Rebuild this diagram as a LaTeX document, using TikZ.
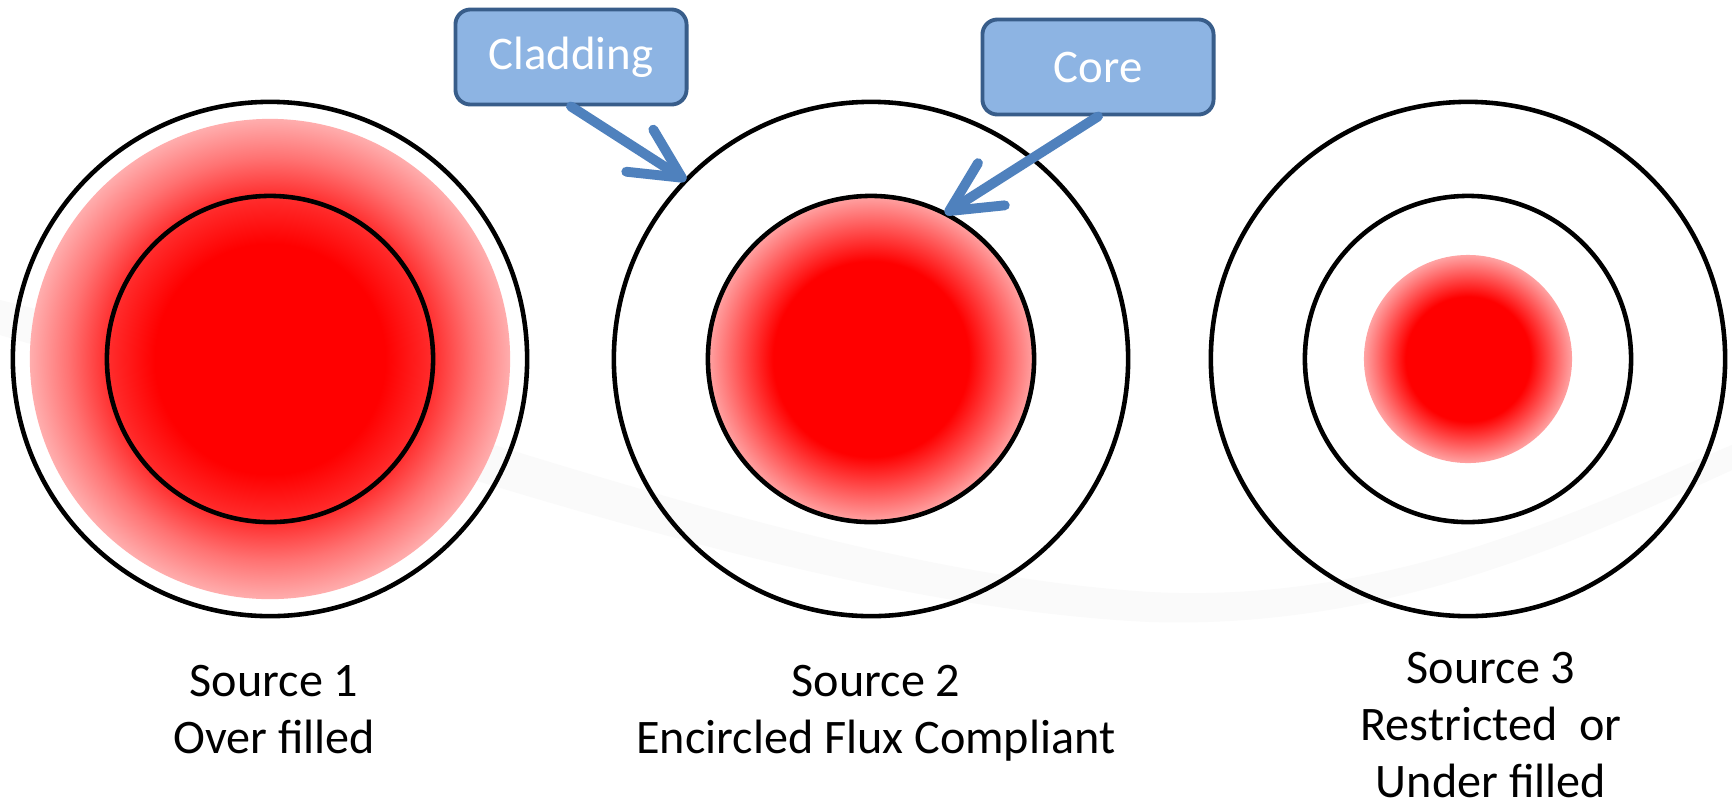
\documentclass[tikz,border=0pt]{standalone}
\usepackage{fontspec}
\setmainfont{Carlito}
\usetikzlibrary{arrows.meta}

\definecolor{calloutfill}{RGB}{141,180,227}
\definecolor{calloutline}{RGB}{56,93,138}
\definecolor{pointerblue}{RGB}{79,129,189}

% light spots, 25bp = rim of the shaded disc
\pgfdeclareradialshading{overspot}{\pgfpoint{0bp}{0bp}}{color(0bp)=(red); color(12bp)=(red); color(17bp)=(red!82!white); color(21bp)=(red!55!white); color(25bp)=(red!32!white); color(50bp)=(red!32!white)}
\pgfdeclareradialshading{corespot}{\pgfpoint{0bp}{0bp}}{color(0bp)=(red); color(15bp)=(red); color(20bp)=(red!68!white); color(25bp)=(red!36!white); color(50bp)=(red!36!white)}

\tikzset{
  fiberring/.style={circle,draw=black,line width=1.3pt,inner sep=0pt,outer sep=0pt},
  lightspot/.style={circle,shade,shading=#1,inner sep=0pt,outer sep=0pt},
  callout/.style={draw=calloutline,fill=calloutfill,line width=1.1pt,rounded corners=0.15cm,
    minimum width=2.31cm,minimum height=0.95cm,text=white,font=\fontsize{13.3}{16}\selectfont},
  pointer/.style={draw=pointerblue,line width=2.8pt,line cap=round,
    -{Straight Barb[length=5mm,width=5mm,round]}},
  caption/.style={align=center,anchor=base,font=\fontsize{13.7}{16.2}\selectfont}
}

\begin{document}
\begin{tikzpicture}[x=0.01cm,y=-0.01cm]
\useasboundingbox (0,0) rectangle (1732,808);
\fill[white] (0,0) rectangle (1732,808);
% faint background swoosh
\fill[black!2] (0,300) .. controls (400,400) and (800,570) .. (1150,592) .. controls (1400,605) and (1600,500) .. (1732,445) -- (1732,470) .. controls (1600,530) and (1400,630) .. (1150,622) .. controls (800,605) and (400,450) .. (0,335) -- cycle;

% source 1: over filled
\node[lightspot=overspot,minimum size=4.8cm] (spotA) at (270,359) {};
\node[fiberring,minimum size=5.14cm] (cladA) at (270,359) {};
\node[fiberring,minimum size=3.26cm] (coreA) at (270,359) {};

% source 2: encircled flux
\node[lightspot=corespot,minimum size=3.26cm] (spotB) at (871,359) {};
\node[fiberring,minimum size=5.14cm] (cladB) at (871,359) {};
\node[fiberring,minimum size=3.26cm] (coreB) at (871,359) {};

% source 3: restricted
\node[lightspot=corespot,minimum size=2.08cm] (spotC) at (1468,359) {};
\node[fiberring,minimum size=5.14cm] (cladC) at (1468,359) {};
\node[fiberring,minimum size=3.26cm] (coreC) at (1468,359) {};

% callouts
\node[callout] (cladlabel) at (571,57) {Cladding};
\node[callout] (corelabel) at (1098,67) {Core};
\draw[pointer] (cladlabel.south) -- (cladB.136);
\draw[pointer] (corelabel.south) -- (coreB.63);

% captions (base = last line)
\node[caption] (capA) at (274,753) {Source 1\\Over filled};
\node[caption] (capB) at (876,753) {Source 2\\Encircled Flux Compliant};
\node[caption] (capC) at (1491,797) {Source 3\\Restricted\ \ or\\Under filled};
\end{tikzpicture}
\end{document}
